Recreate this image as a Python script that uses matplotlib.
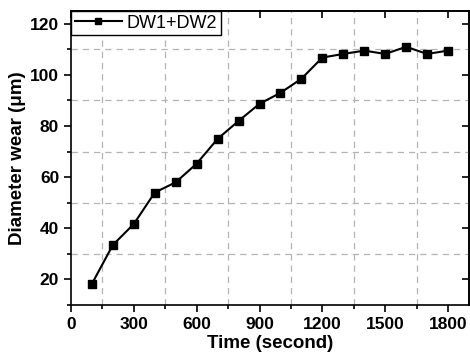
import matplotlib
matplotlib.use("Agg")
import matplotlib.pyplot as plt
import numpy as np
from matplotlib.ticker import MultipleLocator

# data
time_s = [100, 200, 300, 400, 500, 600, 700, 800, 900, 1000,
          1100, 1200, 1300, 1400, 1500, 1600, 1700, 1800]
wear_um = [18.3, 33.5, 41.7, 54.0, 58.0, 65.3, 75.0, 82.0, 88.7, 93.0,
           98.5, 106.8, 108.2, 109.5, 108.2, 111.0, 108.2, 109.5]

plt.rcParams["font.family"] = ["Liberation Sans", "DejaVu Sans"]

fig = plt.figure(figsize=(4.7, 3.59), dpi=100)
ax = fig.add_axes([71 / 470, 1 - 305 / 359, 398 / 470, 294 / 359])

ax.plot(time_s, wear_um, color="black", lw=1.5, marker="s", ms=5.5,
        label="DW1+DW2")

ax.set_xlim(0, 1900)
ax.set_ylim(10, 125)
ax.xaxis.set_major_locator(MultipleLocator(300))
ax.xaxis.set_minor_locator(MultipleLocator(150))
ax.yaxis.set_major_locator(MultipleLocator(20))
ax.yaxis.set_minor_locator(MultipleLocator(10))

ax.grid(which="minor", color="#b4b4b4", ls=(0, (5, 4)), lw=0.9)
ax.grid(which="major", visible=False)

ax.tick_params(which="both", direction="out", top=False, right=False,
               labelsize=12.5, width=1.2)
ax.tick_params(which="major", length=5)
ax.tick_params(which="minor", length=3)
for lab in ax.get_xticklabels() + ax.get_yticklabels():
    lab.set_fontweight("bold")

# inward ticks on top/right, like origin-style plots
sec_x = ax.secondary_xaxis("top")
sec_x.xaxis.set_major_locator(MultipleLocator(300))
sec_x.tick_params(direction="in", length=5, width=1.2, labeltop=False)
sec_y = ax.secondary_yaxis("right")
sec_y.yaxis.set_major_locator(MultipleLocator(20))
sec_y.tick_params(direction="in", length=5, width=1.2, labelright=False)
for s in list(ax.spines.values()):
    s.set_linewidth(1.2)
for s in list(sec_x.spines.values()) + list(sec_y.spines.values()):
    s.set_linewidth(1.2)

ax.set_xlabel("Time (second)", fontsize=13.5, fontweight="bold", labelpad=2)
ax.set_ylabel("Diameter wear (\u03bcm)", fontsize=13.5, fontweight="bold",
              labelpad=3)

leg = ax.legend(loc="upper left", fontsize=13, borderaxespad=0,
                fancybox=False, framealpha=1, edgecolor="black",
                handlelength=2.6, handletextpad=0.3, borderpad=0.2,
                markerscale=0.8)
leg.get_frame().set_linewidth(1.0)

fig.savefig("out.png", dpi=100)
